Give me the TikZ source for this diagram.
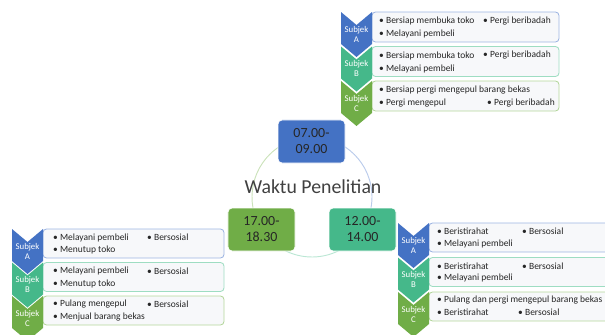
\documentclass[tikz,border=0pt]{standalone}
\usepackage{fontspec}
\setmainfont{Carlito}
\definecolor{biru}{HTML}{4472C4}
\definecolor{tosca}{HTML}{45B88A}
\definecolor{hijau}{HTML}{70AD47}
\definecolor{birumuda}{HTML}{9DB5E2}
\definecolor{toscamuda}{HTML}{9EDDC2}
\definecolor{hijaumuda}{HTML}{B4D69C}
\definecolor{latar}{HTML}{F7F8FA}
\definecolor{tulisan}{HTML}{262626}
\tikzset{
  subjek/.style={text=white, font=\fontsize{7.5}{8.5}\selectfont, align=center, inner sep=0pt},
  isi/.style={anchor=west, inner sep=0pt, text=tulisan, font=\fontsize{8.1}{9}\selectfont},
  waktu/.style={rounded corners=3.5pt, draw=white, line width=0.6pt, minimum width=2.01cm,
    minimum height=1.29cm, align=center, text=tulisan, font=\fontsize{11.9}{13.7}\selectfont},
  kotak/.style={rounded corners=3pt, fill=latar, line width=0.7pt},
  cincin/.style={line width=0.8pt}
}
% chevron: colour, x, y, letter
\newcommand{\chev}[4]{\fill[#1] (#2,#3) -- ++(15.5,13) -- ++(15.5,-13) -- ++(0,32) -- ++(-15.5,13) -- ++(-15.5,-13) -- cycle;
  \node[subjek] (s#4#2) at ({#2+15.5},{#3+22}) {Subjek\\#4};}
% bullet line: name, x, y, text
\newcommand{\butir}[4]{\node[isi] (#1) at (#2,#3) {• #4};}

\begin{document}
\begin{tikzpicture}[x=0.03cm, y=-0.03cm]
			%%%%% START %%%%%
			\useasboundingbox (0,0) rectangle (605,335);
			\clip (0,0) rectangle (605,335);
			
			% ring
			\draw[cincin, color=birumuda!70] (312,197) ++(-90:60) arc (-90:33:60);
			\draw[cincin, color=toscamuda!70] (312,197) ++(33:60) arc (33:147:60);
			\draw[cincin, color=hijaumuda!70] (312,197) ++(147:60) arc (147:270:60);
			
			\node[font=\fontsize{16.9}{18}\selectfont, text=black!75] (judul) at (313,187) {Waktu Penelitian};
			
			\node[waktu, fill=biru] (w1) at (311.5,141.5) {07.00-\\09.00};
			\node[waktu, fill=tosca] (w2) at (362.5,229.5) {12.00-\\14.00};
			\node[waktu, fill=hijau] (w3) at (261.5,229.5) {17.00-\\18.30};
			
			% 07.00-09.00
			\draw[kotak, draw=birumuda] (372,12) rectangle (559,42);
			\draw[kotak, draw=toscamuda] (372,46.5) rectangle (559,76.5);
			\draw[kotak, draw=hijaumuda] (372,81) rectangle (559,111);
			\chev{biru}{341}{12}{A}
			\chev{tosca}{341}{46.5}{B}
			\chev{hijau}{341}{81}{C}
			\butir{pA1}{379}{21}{Bersiap membuka toko}
			\butir{pA2}{483}{21}{Pergi beribadah}
			\butir{pA3}{379}{34}{Melayani pembeli}
			\butir{pB1}{379}{55.5}{Bersiap membuka toko}
			\butir{pB2}{483}{55.5}{Pergi beribadah}
			\butir{pB3}{379}{68.5}{Melayani pembeli}
			\butir{pC1}{379}{90}{Bersiap pergi mengepul barang bekas}
			\butir{pC2}{379}{103}{Pergi mengepul}
			\butir{pC3}{487}{103}{Pergi beribadah}
			
			% 17.00-18.30
			\draw[kotak, draw=birumuda] (43,229) rectangle (224,258);
			\draw[kotak, draw=toscamuda] (43,262.5) rectangle (224,291.5);
			\draw[kotak, draw=hijaumuda] (43,296) rectangle (224,325);
			\chev{biru}{12}{229}{A}
			\chev{tosca}{12}{262.5}{B}
			\chev{hijau}{12}{296}{C}
			\butir{sA1}{53}{237.5}{Melayani pembeli}
			\butir{sA2}{147}{237.5}{Bersosial}
			\butir{sA3}{53}{250}{Menutup toko}
			\butir{sB1}{53}{271}{Melayani pembeli}
			\butir{sB2}{147}{271}{Bersosial}
			\butir{sB3}{53}{283.5}{Menutup toko}
			\butir{sC1}{53}{304.5}{Pulang mengepul}
			\butir{sC2}{147}{304.5}{Bersosial}
			\butir{sC3}{53}{317}{Menjual barang bekas}
			
			% 12.00-14.00
			\draw[kotak, draw=birumuda] (429,223) rectangle (612,252);
			\draw[kotak, draw=toscamuda] (429,257.5) rectangle (612,286.5);
			\draw[kotak, draw=hijaumuda] (429,292) rectangle (612,321);
			\chev{biru}{398}{223}{A}
			\chev{tosca}{398}{257.5}{B}
			\chev{hijau}{398}{292}{C}
			\butir{dA1}{437}{231.5}{Beristirahat}
			\butir{dA2}{522}{231.5}{Bersosial}
			\butir{dA3}{437}{243.5}{Melayani pembeli}
			\butir{dB1}{437}{266}{Beristirahat}
			\butir{dB2}{522}{266}{Bersosial}
			\butir{dB3}{437}{278}{Melayani pembeli}
			\butir{dC1}{437}{300.5}{Pulang dan pergi mengepul barang bekas}
			\butir{dC2}{437}{312.5}{Beristirahat}
			\butir{dC3}{518}{312.5}{Bersosial}
			
			%%%%% END %%%%%
		\end{tikzpicture}
\end{document}
